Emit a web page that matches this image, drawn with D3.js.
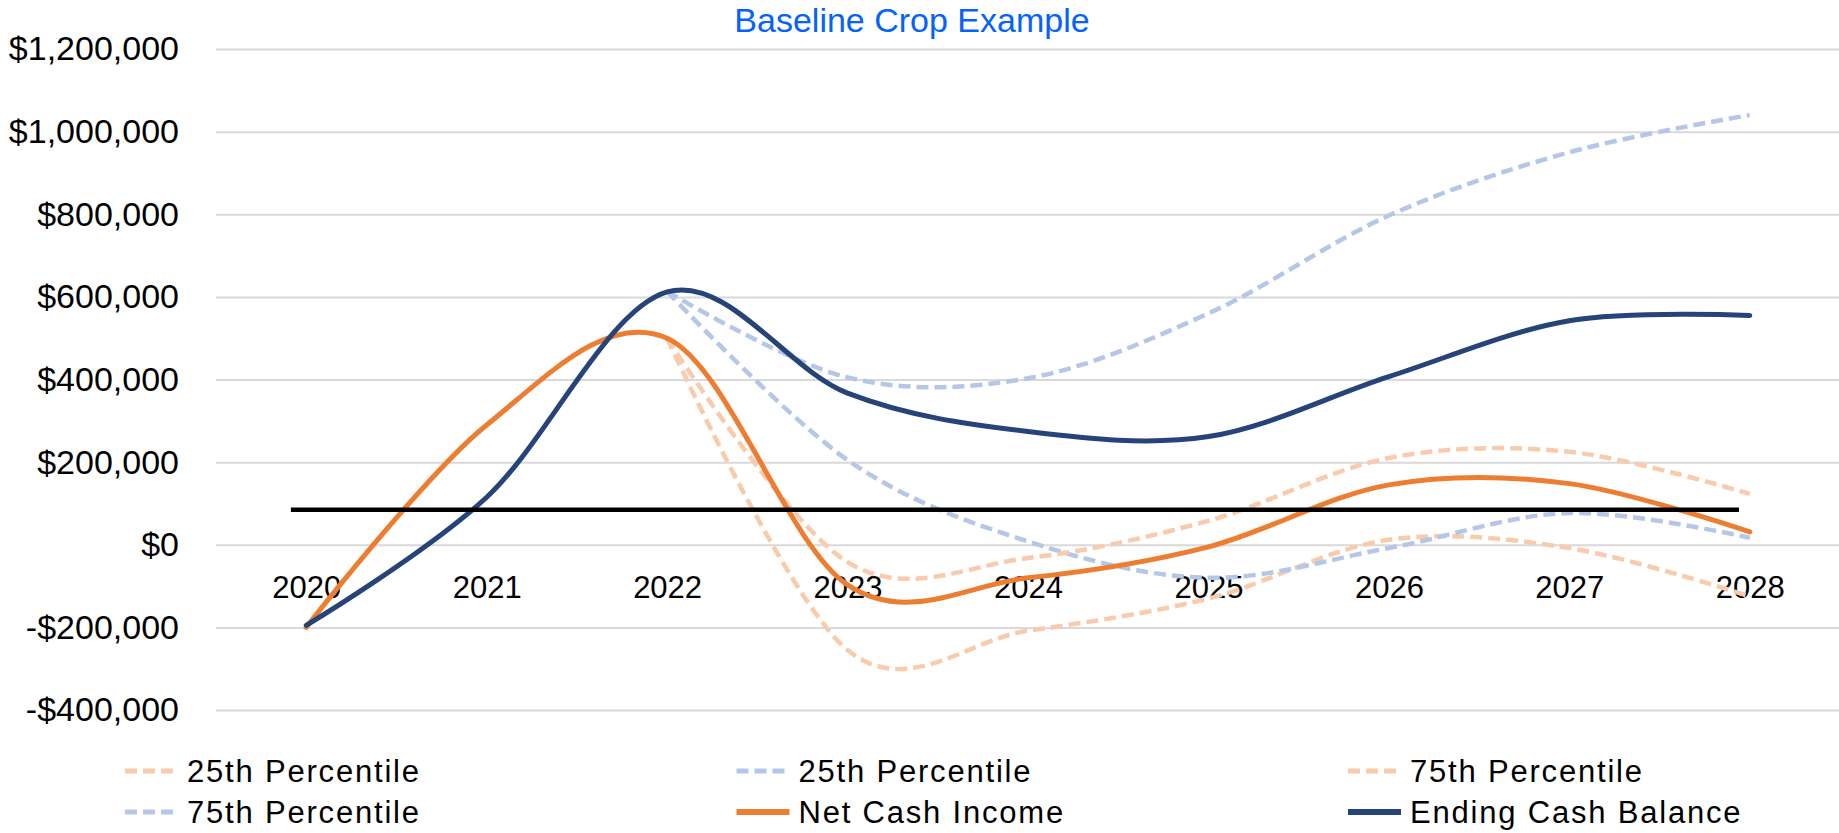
<!DOCTYPE html>
<html>
<head>
<meta charset="utf-8">
<script src="https://cdn.jsdelivr.net/npm/d3@7"></script>
<style>
  html, body { margin: 0; padding: 0; background: #fff; }
  svg { display: block; font-family: "Liberation Sans", Arial, sans-serif; }
</style>
</head>
<body>
<svg id="chart" width="1839" height="833"></svg>
<script>
// chart data
const years = ['2020', '2021', '2022', '2023', '2024', '2025', '2026', '2027', '2028'];
const yTicks = [-400000, -200000, 0, 200000, 400000, 600000, 800000, 1000000, 1200000];

const netCashIncome = [-200000, 290000, 500000, -97000, -80000, -5000, 145000, 148000, 31000];
const endingCashBalance = [-195000, 115000, 612000, 367000, 274000, 262000, 407000, 542000, 555000];
const nciP25 = [null, null, 500000, -255000, -208000, -130000, 12000, -8000, -125000];
const nciP75 = [null, null, 500000, -42000, -32000, 58000, 210000, 225000, 123000];
const ecbP25 = [null, null, 613000, 205000, 8000, -80000, -8000, 77000, 17000];
const ecbP75 = [null, null, 613000, 405000, 403000, 560000, 797000, 950000, 1040000];
const thresholdValue = 85000;

const lightOrange = '#f8cbad';
const lightBlue = '#b4c7e7';

// order = legend order = draw order
const series = [
  { name: '25th Percentile', values: nciP25, color: lightOrange, dashed: true },
  { name: '25th Percentile', values: ecbP25, color: lightBlue, dashed: true },
  { name: '75th Percentile', values: nciP75, color: lightOrange, dashed: true },
  { name: '75th Percentile', values: ecbP75, color: lightBlue, dashed: true },
  { name: 'Net Cash Income', values: netCashIncome, color: '#ed7d31', dashed: false },
  { name: 'Ending Cash Balance', values: endingCashBalance, color: '#264478', dashed: false },
];

const svg = d3.select('#chart');
const left = 216, right = 1840;

const x = d3.scalePoint().domain(years).range([left, right]).padding(0.5);
const y = d3.scaleLinear().domain([-400000, 1200000]).range([710, 49]);
// fractional category positions (for the threshold bar)
const xi = d3.scaleLinear().domain([0, years.length - 1]).range([x(years[0]), x(years[years.length - 1])]);

const money = (v) => (v < 0 ? '-$' : '$') + d3.format(',')(Math.abs(v));

// title
svg.append('text')
  .attr('x', 912)
  .attr('y', 32)
  .attr('text-anchor', 'middle')
  .style('font-size', '34px')
  .style('fill', '#0563fa')
  .text('Baseline Crop Example');

// y axis + gridlines
const yAxis = svg.append('g')
  .attr('transform', `translate(${left},0)`)
  .call(d3.axisLeft(y).tickValues(yTicks).tickFormat(money).tickSize(-(right - left)).tickPadding(37));
yAxis.select('.domain').remove();
yAxis.selectAll('.tick line').attr('stroke', '#d9d9d9').attr('stroke-width', 2);
yAxis.selectAll('.tick text')
  .style('font-size', '34px')
  .style('font-family', '"Liberation Sans", Arial, sans-serif')
  .attr('fill', '#000');

// x axis labels sit under the $0 line
const xAxis = svg.append('g')
  .attr('transform', `translate(0,${y(0)})`)
  .call(d3.axisBottom(x).tickSize(0).tickPadding(31));
xAxis.select('.domain').remove();
xAxis.selectAll('.tick text')
  .style('font-size', '31px')
  .style('font-family', '"Liberation Sans", Arial, sans-serif')
  .attr('fill', '#000');

// lines
const line = d3.line()
  .defined((d) => d != null)
  .x((d, i) => x(years[i]))
  .y((d) => y(d))
  .curve(d3.curveCardinal.tension(0));

svg.append('g')
  .selectAll('path')
  .data(series)
  .join('path')
  .attr('d', (s) => line(s.values))
  .attr('fill', 'none')
  .attr('stroke', (s) => s.color)
  .attr('stroke-width', (s) => (s.dashed ? 4.5 : 5))
  .attr('stroke-dasharray', (s) => (s.dashed ? '12,6' : null))
  .attr('stroke-linecap', (s) => (s.dashed ? 'butt' : 'round'));

// black threshold bar
svg.append('line')
  .attr('x1', xi(-0.085))
  .attr('x2', xi(7.94))
  .attr('y1', y(thresholdValue))
  .attr('y2', y(thresholdValue))
  .attr('stroke', '#000')
  .attr('stroke-width', 4.5);

// legend, 3 columns x 2 rows
const legend = svg.append('g')
  .selectAll('g')
  .data(series)
  .join('g')
  .attr('transform', (d, i) => `translate(${125 + (i % 3) * 611.5},${i < 3 ? 771 : 812})`);

legend.append('line')
  .attr('x1', 0)
  .attr('x2', 53)
  .attr('stroke', (d) => d.color)
  .attr('stroke-width', (d) => (d.dashed ? 5 : 6))
  .attr('stroke-dasharray', (d) => (d.dashed ? '12,6' : null));

legend.append('text')
  .attr('x', 62)
  .attr('dy', '0.35em')
  .style('font-size', '31px')
  .style('letter-spacing', '1.8px')
  .text((d) => d.name);
</script>
</body>
</html>
